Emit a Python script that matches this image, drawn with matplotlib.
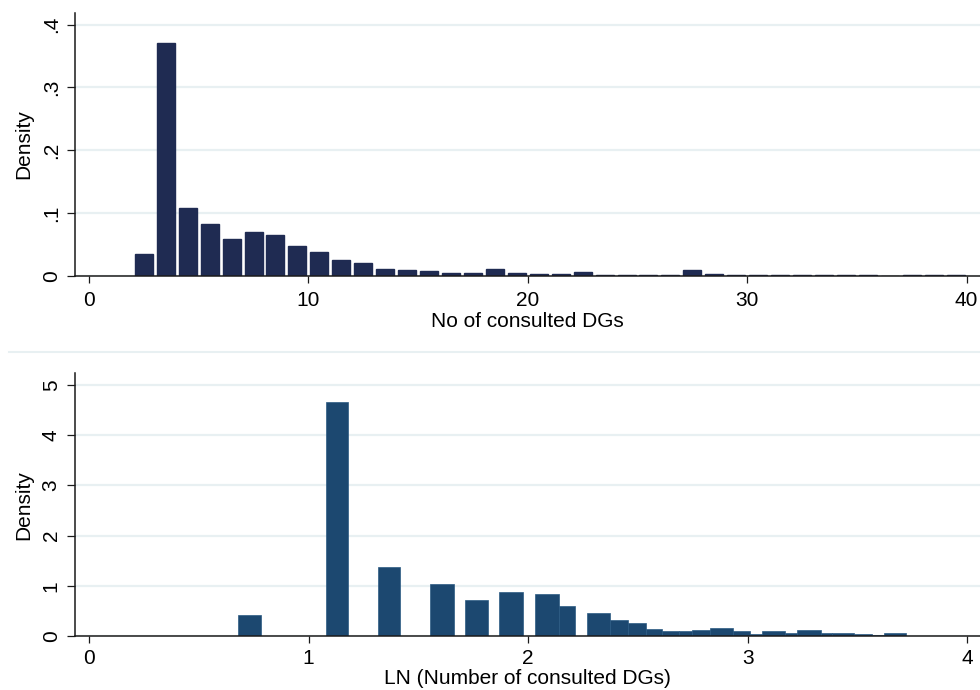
import matplotlib
matplotlib.use("Agg")
import matplotlib.pyplot as plt
from matplotlib.lines import Line2D
from matplotlib.transforms import blended_transform_factory

# --- data ---
# top panel: number of consulted DGs, bins of width 1 (left edges)
dg_bin_left = [2, 3, 4, 5, 6, 7, 8, 9, 10, 11, 12, 13, 14, 15, 16, 17, 18, 19, 20,
               21, 22, 23, 24, 25, 26, 27, 28, 29, 30, 31, 32, 33, 34, 35, 36, 37, 38, 39]
dg_density = [0.0345, 0.370, 0.108, 0.082, 0.059, 0.070, 0.066, 0.048, 0.0375, 0.026,
              0.020, 0.0117, 0.009, 0.008, 0.0045, 0.0055, 0.0115, 0.0045, 0.0032, 0.0032,
              0.0064, 0.0012, 0.002, 0.0012, 0.0012, 0.009, 0.0026, 0.0016, 0.0012, 0.0012,
              0.002, 0.002, 0.0012, 0.0012, 0.0, 0.0012, 0.0012, 0.0012]
dg_yticks = [0, 0.1, 0.2, 0.3, 0.4]
dg_yticklabels = ["0", ".1", ".2", ".3", ".4"]
dg_xticks = [0, 10, 20, 30, 40]

# bottom panel: LN(number of consulted DGs), bar edges as drawn
ln_left = [0.677, 1.077, 1.315, 1.554, 1.710, 1.869, 2.029, 2.138, 2.269, 2.374,
           2.454, 2.535, 2.611, 2.688, 2.745, 2.826, 2.931, 3.008, 3.065, 3.171,
           3.224, 3.331, 3.384, 3.483, 3.567, 3.619]
ln_right = [0.784, 1.180, 1.418, 1.660, 1.815, 1.976, 2.138, 2.214, 2.374, 2.454,
            2.535, 2.611, 2.688, 2.745, 2.826, 2.931, 3.008, 3.065, 3.171, 3.224,
            3.331, 3.384, 3.483, 3.567, 3.619, 3.722]
ln_density = [0.43, 4.65, 1.37, 1.04, 0.73, 0.89, 0.84, 0.60, 0.47, 0.33,
              0.27, 0.15, 0.11, 0.10, 0.125, 0.16, 0.105, 0.05, 0.105, 0.065,
              0.13, 0.06, 0.065, 0.055, 0.03, 0.065]
ln_yticks = [0, 1, 2, 3, 4, 5]
ln_xticks = [0, 1, 2, 3, 4]

top_color = "#1f2b52"
bottom_color = "#1c4870"
grid_color = "#e8f0f2"
axis_color = "#1a1a1a"

plt.rcParams.update({
    "font.family": ["Liberation Sans", "DejaVu Sans"],
    "font.size": 15,
})

W, H = 980, 690
fig = plt.figure(figsize=(W / 100, H / 100), dpi=100)


def px_axes(left, top, right, bottom):
    return fig.add_axes([left / W, 1 - bottom / H, (right - left) / W, (bottom - top) / H])


def style(ax, xpad, ypad):
    for s in ("top", "right"):
        ax.spines[s].set_visible(False)
    for s in ("left", "bottom"):
        ax.spines[s].set_color(axis_color)
        ax.spines[s].set_linewidth(1.1)
    ax.set_axisbelow(True)
    ax.yaxis.grid(True, color=grid_color, linewidth=1.6)
    ax.tick_params(axis="x", length=5, width=0.9, color=axis_color, pad=xpad, labelsize=15)
    ax.tick_params(axis="y", length=5.8, width=0.9, color=axis_color, pad=ypad, labelsize=15)
    for lab in ax.get_yticklabels():
        lab.set_rotation(90)
        lab.set_va("center")
    lab_tr = blended_transform_factory(fig.transFigure, ax.transAxes)
    ax.yaxis.set_label_coords(33 / W, 0.5, transform=lab_tr)


# ---- top panel ----
ax1 = px_axes(75, 12.7, 980, 276)
ax1.bar([x + 0.5 for x in dg_bin_left], dg_density, width=0.82,
        color=top_color, edgecolor=top_color, linewidth=1.0)
ax1.set_xlim(-0.638, 40.61)
ax1.set_ylim(0, 0.419)
ax1.set_xticks(dg_xticks)
ax1.set_yticks(dg_yticks)
ax1.set_yticklabels(dg_yticklabels)
ax1.set_xlabel("No of consulted DGs", labelpad=1.5)
ax1.set_ylabel("Density")
style(ax1, 5.5, 4.5)

# ---- bottom panel ----
ax2 = px_axes(75, 373.3, 980, 636.3)
ln_width = [r - l for l, r in zip(ln_left, ln_right)]
ax2.bar(ln_left, ln_density, width=ln_width, align="edge",
        color=bottom_color, edgecolor="#2b5a83", linewidth=0.5)
ax2.set_xlim(-0.0638, 4.057)
ax2.set_ylim(0, 5.23)
ax2.set_xticks(ln_xticks)
ax2.set_yticks(ln_yticks)
ax2.set_xlabel("LN (Number of consulted DGs)", labelpad=1.0)
ax2.set_ylabel("Density")
style(ax2, 4.0, 4.5)

# faint border between the two graph regions
fig.add_artist(Line2D([9 / W, 1.0], [1 - 352 / H, 1 - 352 / H],
                      transform=fig.transFigure, color=grid_color, linewidth=1.5))

fig.savefig("out.png", dpi=100)
